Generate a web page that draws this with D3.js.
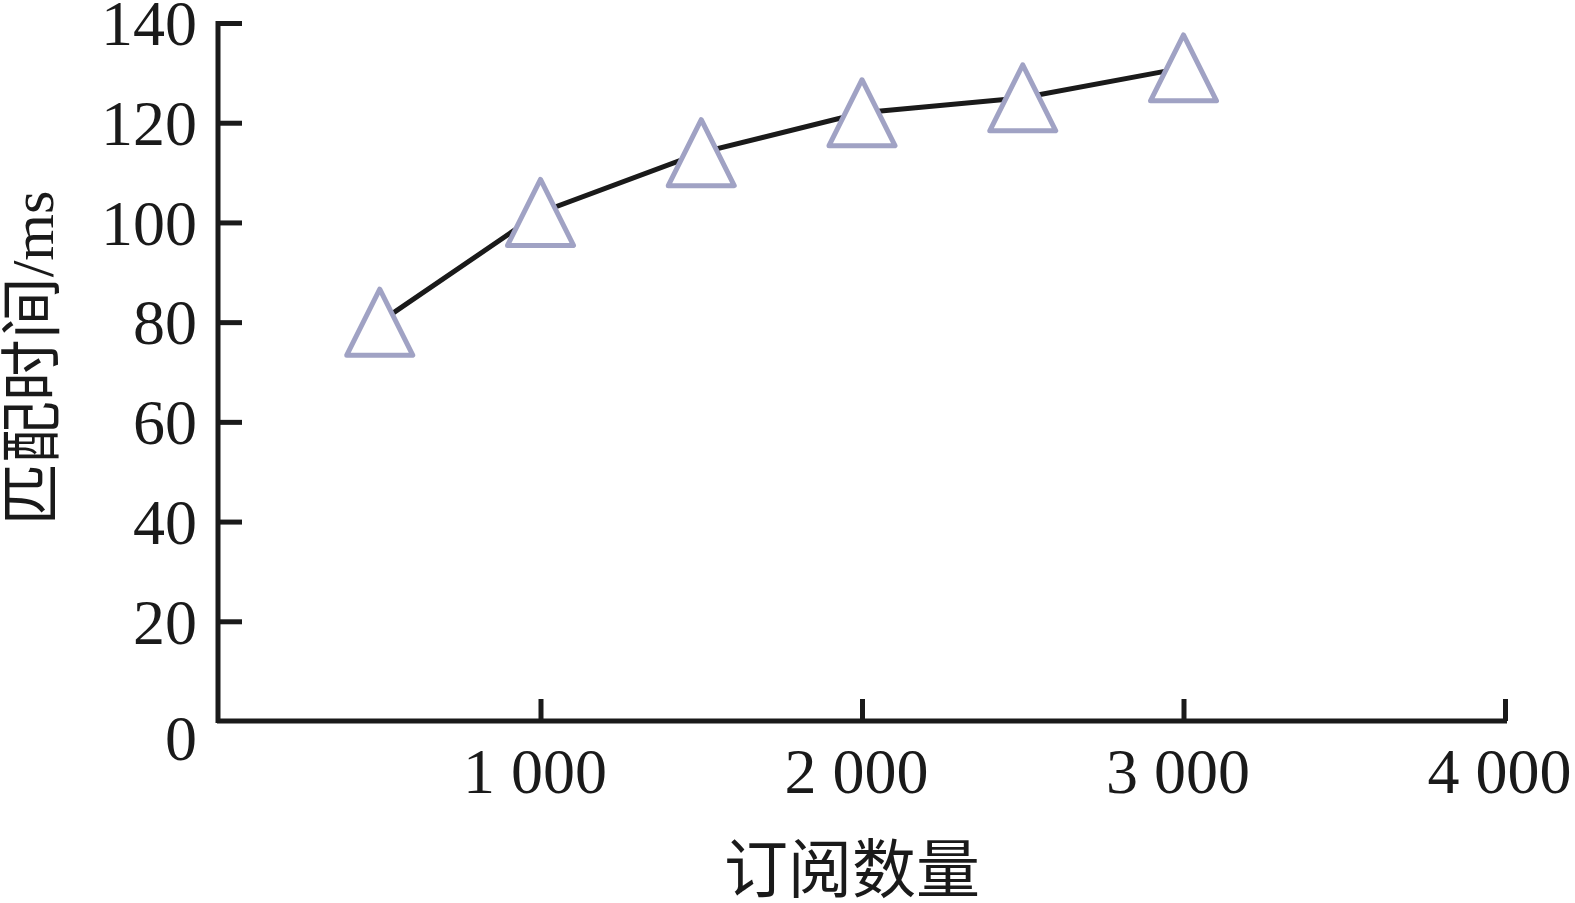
<!DOCTYPE html>
<html>
<head>
<meta charset="utf-8">
<script src="https://cdn.jsdelivr.net/npm/d3@7"></script>
<style>
  html, body { margin: 0; padding: 0; background: #fff; }
  svg { display: block; }
  text { font-family: "Liberation Serif", "Noto Sans CJK SC", serif; fill: #1a1a1a; }
</style>
</head>
<body>
<svg id="chart" width="1575" height="903"></svg>
<script>
// ---- data ----
const subscriptions = [500, 1000, 1500, 2000, 2500, 3000];
const matchTime = [80, 102, 114, 122, 125, 131];
const xTicks = [1000, 2000, 3000, 4000];
const yTicks = [0, 20, 40, 60, 80, 100, 120, 140];
const xTitle = "订阅数量";
const yTitleCJK = "匹配时间";
const yTitleUnit = "/ms";

const svg = d3.select("#chart");
const x = d3.scaleLinear().domain([0, 4000]).range([219, 1505]);
const y = d3.scaleLinear().domain([0, 140]).range([721, 23]);

const axisColor = "#1a1a1a";

// x axis (ticks point inward/up)
const gx = svg.append("g").attr("transform", `translate(0,${y(0)})`)
  .call(d3.axisBottom(x).tickValues(xTicks).tickSizeInner(-22).tickSizeOuter(0).tickPadding(0)
    .tickFormat(d => d3.format(",")(d).replace(",", " ")));
gx.select(".domain").attr("stroke", axisColor).attr("stroke-width", 5)
  .attr("d", `M${x(0) - 2},0H${x(4000) + 2}`);
gx.selectAll(".tick line").attr("stroke", axisColor).attr("stroke-width", 5);
gx.selectAll(".tick text").attr("font-size", 64).attr("fill", axisColor)
  .attr("y", 0).attr("dy", 0).attr("dominant-baseline", "auto")
  .attr("transform", "translate(-6,72)");

// y axis (ticks point inward/right)
const gy = svg.append("g").attr("transform", `translate(${x(0) - 1},0)`)
  .call(d3.axisLeft(y).tickValues(yTicks).tickSizeInner(-24).tickSizeOuter(0).tickPadding(21));
gy.select(".domain").attr("stroke", axisColor).attr("stroke-width", 5)
  .attr("d", `M0,${y(140) - 2}V${y(0) + 2}`);
gy.selectAll(".tick line").attr("stroke", axisColor).attr("stroke-width", 5);
gy.selectAll(".tick text").attr("font-size", 64).attr("fill", axisColor)
  .attr("dy", "0.34em");
gy.selectAll(".tick").filter(d => d === 0).select("text").attr("dy", "0.6em");
gy.selectAll(".tick").filter(d => d === 0).select("line").remove();

// line
const pts = subscriptions.map((s, i) => [s, matchTime[i]]);
svg.append("path").datum(pts)
  .attr("fill", "none").attr("stroke", "#1a1a1a").attr("stroke-width", 5)
  .attr("d", d3.line().x(d => x(d[0])).y(d => y(d[1])).curve(d3.curveLinear));

// triangle markers
const hw = 33, hh = 33;
svg.append("g").selectAll("path").data(pts).join("path")
  .attr("d", d => {
    const cx = x(d[0]), cy = y(d[1]);
    return `M${cx},${cy - hh}L${cx + hw},${cy + hh}L${cx - hw},${cy + hh}Z`;
  })
  .attr("fill", "#fff").attr("stroke", "#a0a2c4").attr("stroke-width", 5)
  .attr("stroke-linejoin", "round");

// axis titles
svg.append("text").attr("x", 852).attr("y", 870)
  .attr("text-anchor", "middle").attr("dominant-baseline", "central")
  .attr("font-size", 64).text(xTitle);

const yt = svg.append("text")
  .attr("transform", "translate(33,358) rotate(-90)")
  .attr("text-anchor", "middle").attr("dominant-baseline", "central")
  .attr("font-size", 62);
yt.append("tspan").text(yTitleCJK);
yt.append("tspan").attr("font-size", 60).text(yTitleUnit);
</script>
</body>
</html>
